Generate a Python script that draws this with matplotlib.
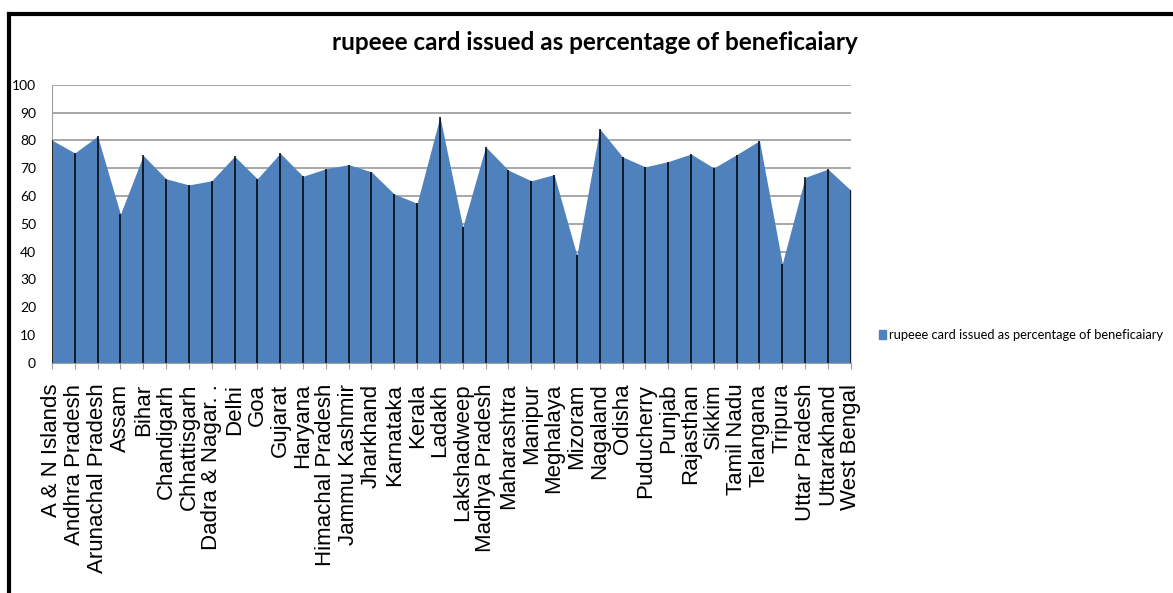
import numpy as np
import matplotlib
matplotlib.use('Agg')
from matplotlib import pyplot as plt
from matplotlib.patches import Patch
from matplotlib.lines import Line2D

states = ['A & N Islands', 'Andhra Pradesh', 'Arunachal Pradesh', 'Assam', 'Bihar',
          'Chandigarh', 'Chhattisgarh', 'Dadra & Nagar. .', 'Delhi', 'Goa', 'Gujarat',
          'Haryana', 'Himachal Pradesh', 'Jammu Kashmir', 'Jharkhand', 'Karnataka',
          'Kerala', 'Ladakh', 'Lakshadweep', 'Madhya Pradesh', 'Maharashtra', 'Manipur',
          'Meghalaya', 'Mizoram', 'Nagaland', 'Odisha', 'Puducherry', 'Punjab',
          'Rajasthan', 'Sikkim', 'Tamil Nadu', 'Telangana', 'Tripura', 'Uttar Pradesh',
          'Uttarakhand', 'West Bengal']
pct_issued = [80.1, 75.5, 81.5, 53.5, 74.6, 66.2, 64.0, 65.5, 74.3, 66.2, 75.4,
              67.1, 69.8, 71.3, 68.7, 60.7, 57.4, 88.5, 48.9, 77.7, 69.3, 65.5,
              67.7, 38.7, 84.2, 74.1, 70.5, 72.4, 75.1, 70.1, 74.9, 79.9, 35.7,
              66.7, 69.7, 62.1]
series_name = 'rupeee card issued as percentage of beneficaiary'

ui_font = ['Lato', 'DejaVu Sans']
blue = '#4F81BD'

fig = plt.figure(figsize=(11.73, 5.93), dpi=100)
ax = fig.add_axes([0.0443, 0.388, 0.681, 0.469])

x = np.arange(len(states))
ax.fill_between(x, 0, pct_issued, color=blue, lw=0, zorder=2)
ax.vlines(x, 0, pct_issued, color='black', lw=1.1, zorder=3)

ax.set_xlim(0, len(states) - 1)
ax.set_ylim(0, 100)
ax.set_yticks(range(0, 101, 10))
ax.yaxis.grid(True, color='#a0a0a0', lw=1.3, zorder=1)
ax.set_axisbelow(True)
for s in ('top', 'right'):
    ax.spines[s].set_visible(False)
ax.spines['left'].set_color('#a0a0a0')
ax.spines['bottom'].set_color('#a0a0a0')
ax.tick_params(axis='y', length=0, pad=11.5, labelsize=10)
for t in ax.get_yticklabels():
    t.set_family(ui_font)
ax.set_xticks(x)
ax.set_xticklabels(states, rotation=90, fontsize=16, family='Liberation Sans')
ax.tick_params(axis='x', length=4, color='#a0a0a0', pad=11)

fig.text(0.507, 0.929, series_name, ha='center', va='center',
         fontsize=17.5, fontweight='bold', family=ui_font)

fig.legend(handles=[Patch(color=blue, label=series_name)], loc='center left',
           bbox_to_anchor=(0.745, 0.435), frameon=False, handlelength=0.55,
           handleheight=0.6, handletextpad=0.25, borderaxespad=0,
           prop={'family': ui_font, 'size': 9.3})

# outer frame of the screenshot
fig.add_artist(Line2D([0.008, 0.008], [0.0, 0.977], color='black', lw=3, transform=fig.transFigure))
fig.add_artist(Line2D([0.008, 1.0], [0.977, 0.977], color='black', lw=3, transform=fig.transFigure))

fig.savefig('out.png', dpi=100)
